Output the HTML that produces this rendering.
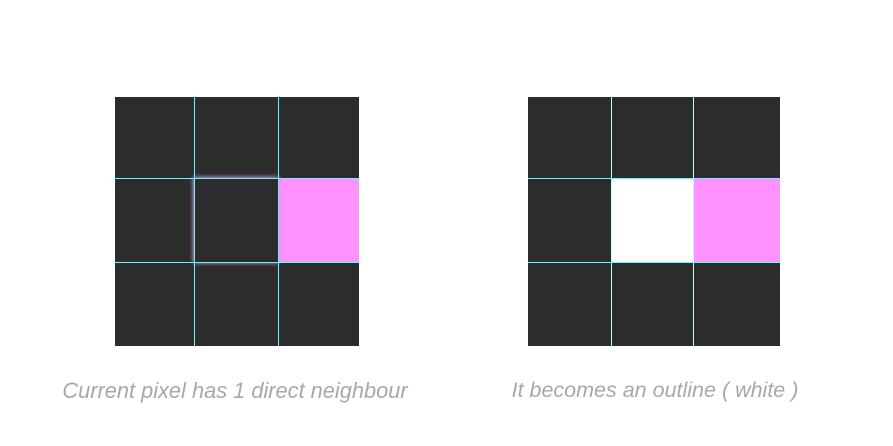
<!DOCTYPE html>
<html><head><meta charset="utf-8"><style>
body{margin:0;width:893px;height:446px;background:#fff;position:relative;overflow:hidden;font-family:"Liberation Sans",sans-serif}
.c{position:absolute;background:#2c2c2c}
.l{position:absolute;background:#5ff}
.t{position:absolute;top:378px;font-style:italic;color:#a8a8a8;font-size:21.8px;white-space:nowrap;text-align:center;width:460px}
</style></head><body>
<div>
<div class="c" style="left:115px;top:97px;width:244px;height:249px"></div>
<div class="c" style="left:278px;top:178px;width:81px;height:84px;background:#ff92fe"></div>
<div style="position:absolute;left:194px;top:178px;width:84px;height:84px;box-shadow:0 0 4px 1px #d98fd8"></div>
<div class="l" style="left:194px;top:97px;width:1px;height:249px"></div>
<div class="l" style="left:278px;top:97px;width:1px;height:249px"></div>
<div class="l" style="left:115px;top:178px;width:244px;height:1px"></div>
<div class="l" style="left:115px;top:262px;width:244px;height:1px"></div>
</div>
<div>
<div class="c" style="left:528px;top:97px;width:252px;height:249px"></div>
<div class="c" style="left:611px;top:178px;width:82px;height:84px;background:#fff"></div>
<div class="c" style="left:693px;top:178px;width:87px;height:84px;background:#ff92fe"></div>
<div class="l" style="left:611px;top:97px;width:1px;height:249px;background:#bff"></div>
<div class="l" style="left:693px;top:97px;width:1px;height:249px;background:#bff"></div>
<div class="l" style="left:528px;top:178px;width:252px;height:1px"></div>
<div class="l" style="left:528px;top:262px;width:252px;height:1px"></div>
</div>
<div class="t" style="left:5px">Current pixel has 1 direct neighbour</div>
<div class="t" style="left:425px;font-size:21.5px">It becomes an outline ( white )</div>
</body></html>
